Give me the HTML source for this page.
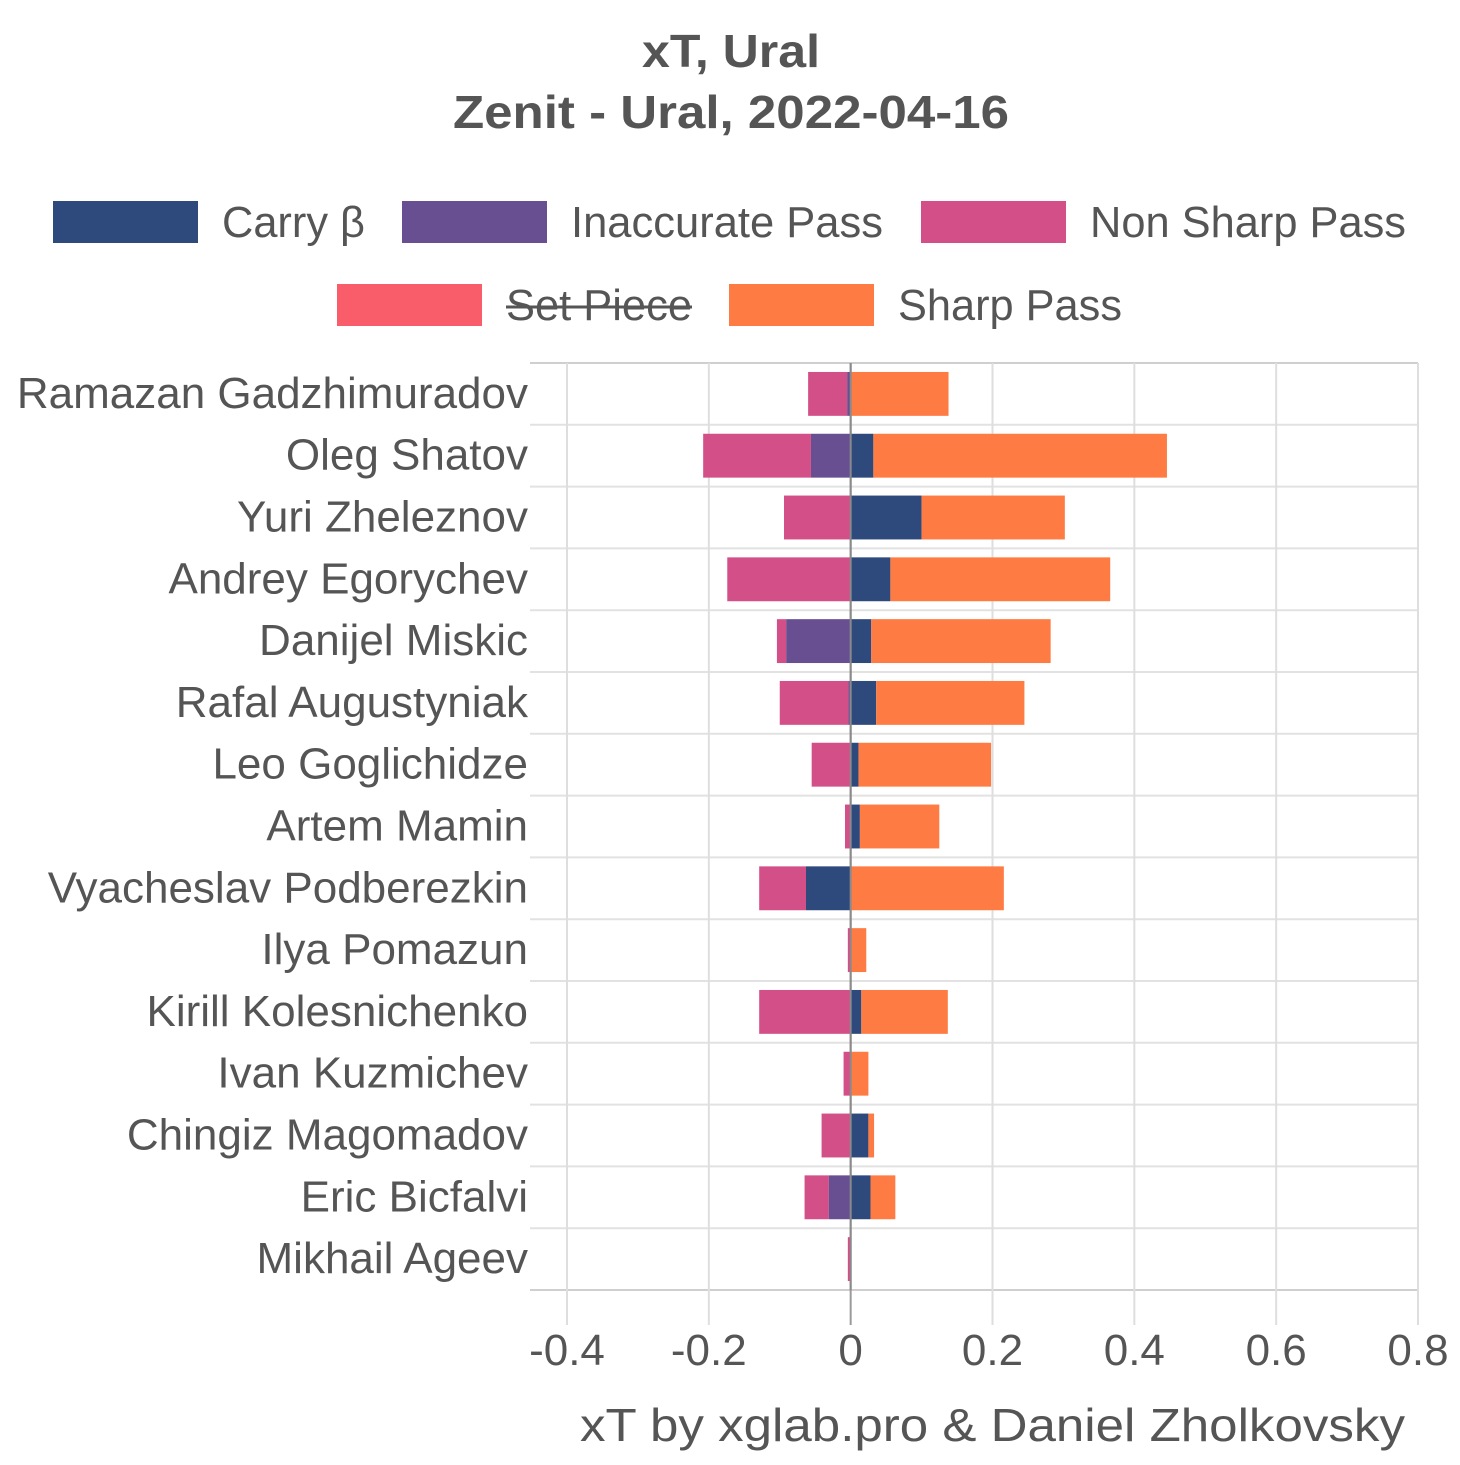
<!DOCTYPE html>
<html><head><meta charset="utf-8"><style>
html,body{margin:0;padding:0;background:#fff;}
svg text{font-family:"Liberation Sans",Arial,sans-serif;fill:#555;}
</style></head><body>
<svg id="chart" width="1460" height="1460" viewBox="0 0 1460 1460" xmlns="http://www.w3.org/2000/svg">
<rect width="1460" height="1460" fill="#fff"/>
<g>
<text x="731" y="67" text-anchor="middle" font-size="46" font-weight="bold" textLength="178" lengthAdjust="spacingAndGlyphs">xT, Ural</text>
<text x="731" y="128" text-anchor="middle" font-size="46" font-weight="bold" textLength="556" lengthAdjust="spacingAndGlyphs">Zenit - Ural, 2022-04-16</text>
</g>
<g id="legend"></g>
<g id="grid"></g>
<g id="bars"></g>
<g id="axes"></g>
<text x="1405" y="1441" text-anchor="end" font-size="46" textLength="825" lengthAdjust="spacingAndGlyphs">xT by xglab.pro &amp; Daniel Zholkovsky</text>
</svg>
<script>
const players = ["Ramazan Gadzhimuradov","Oleg Shatov","Yuri Zheleznov","Andrey Egorychev","Danijel Miskic","Rafal Augustyniak","Leo Goglichidze","Artem Mamin","Vyacheslav Podberezkin","Ilya Pomazun","Kirill Kolesnichenko","Ivan Kuzmichev","Chingiz Magomadov","Eric Bicfalvi","Mikhail Ageev"];
const carry      = [0, 0.032, 0.100, 0.056, 0.029, 0.036, 0.011, 0.013, -0.063, 0, 0.015, 0, 0.025, 0.028, 0];
const inaccurate = [-0.005, -0.056, 0, 0, -0.091, -0.003, 0, 0, 0, 0, 0, 0, 0, -0.031, 0];
const nonSharp   = [-0.055, -0.152, -0.094, -0.174, -0.013, -0.097, -0.055, -0.008, -0.066, -0.004, -0.129, -0.010, -0.041, -0.034, -0.004];
const setPiece   = [0,0,0,0,0,0,0,0,0,0,0,0,0,0,0];
const sharp      = [0.138, 0.414, 0.202, 0.310, 0.253, 0.209, 0.187, 0.112, 0.216, 0.022, 0.122, 0.025, 0.008, 0.035, 0];
const xTicks = [-0.4,-0.2,0,0.2,0.4,0.6,0.8];
const xTickLabels = ["-0.4","-0.2","0","0.2","0.4","0.6","0.8"];
const seriesNames = ["Carry β","Inaccurate Pass","Non Sharp Pass","Set Piece","Sharp Pass"];

const NS="http://www.w3.org/2000/svg";
const colors=["#2e4a7d","#674f91","#d34f88","#f95d6a","#fe7c43"];
const series=[carry,inaccurate,nonSharp,setPiece,sharp];
const visible=[true,true,true,false,true];
const X0=567,X1=1418,XMIN=-0.4,XMAX=0.8,TOP=363,BOT=1290;
function xs(v){return X0+(v-XMIN)/(XMAX-XMIN)*(X1-X0);}
const band=(BOT-TOP)/players.length;
function yc(i){return TOP+band*(i+0.5);}
function mk(tag,attrs,parent){const e=document.createElementNS(NS,tag);for(const k in attrs)e.setAttribute(k,attrs[k]);parent.appendChild(e);return e;}
const grid=document.getElementById('grid'),bars=document.getElementById('bars'),axes=document.getElementById('axes'),legend=document.getElementById('legend');
for(let i=0;i<=players.length;i++){
  const y=TOP+band*i;
  const l=mk('line',{x1:530,x2:X1,y1:y,y2:y,stroke:i==players.length||i==0?'#cfcfcf':'#e2e2e2','stroke-width':2},grid);
  
  
}
xTicks.forEach((t,i)=>{
  const x=xs(t);
  const l=mk('line',{x1:x,x2:x,y1:TOP,y2:1325,stroke:t===0?'#9a9a9a':'#dedede','stroke-width':2},grid);
  
  
  const tx=mk('text',{x:x,y:1365,'text-anchor':'middle','font-size':44},axes);
  tx.textContent=xTickLabels[i];
  
  
});
const bh=band*0.71;
players.forEach((p,i)=>{
  let pos=0,neg=0;
  series.forEach((s,k)=>{
    if(!visible[k])return;
    const v=s[i]; if(!v)return;
    let a,b;
    if(v>0){a=pos;b=pos+v;pos=b;}else{a=neg+v;b=neg;neg=a;}
    const r=mk('rect',{x:xs(a),y:yc(i)-bh/2,width:Math.max(xs(b)-xs(a),1),height:bh,fill:colors[k]},bars);
    
    
  });
  const t=mk('text',{x:528,y:yc(i)+14,'text-anchor':'end','font-size':44},axes);
  t.textContent=p;
  
  
});
const z=mk('line',{x1:xs(0),x2:xs(0),y1:TOP,y2:BOT,stroke:'#8a8a8a','stroke-width':2},bars);


const legPos=[[53,222,222],[402,222,571],[921,222,1090],[337,305,506],[729,305,898]];
const legW=[143,312,316,186,224];
seriesNames.forEach((n,k)=>{
  const [sx,y,tx]=legPos[k];
  const r=mk('rect',{x:sx,y:y-21,width:145,height:42,fill:colors[k]},legend);
  
  
  const t=mk('text',{x:tx,y:y+15,'font-size':44,textLength:legW[k],lengthAdjust:'spacingAndGlyphs'},legend);
  t.textContent=n;
  
  
  if(!visible[k]){
    const s=mk('line',{x1:tx,x2:tx+legW[k],y1:y+2,y2:y+2,stroke:'#555','stroke-width':3},legend);
    
    
  }
});
</script>
</body></html>
